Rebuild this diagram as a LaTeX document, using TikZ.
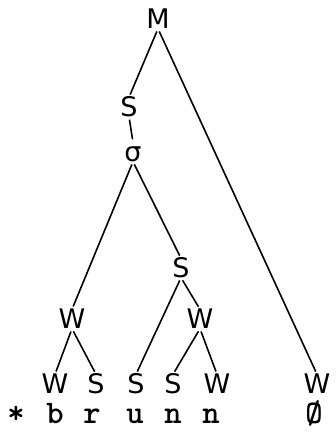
\documentclass[tikz,border=0pt]{standalone}
\usepackage{fontspec}
\setmainfont{DejaVu Sans}
\begin{document}
\begin{tikzpicture}[x=1pt,y=-1pt,
  lab/.style={font=\fontsize{27}{27}\selectfont, inner sep=0pt, text height=19pt, text depth=0pt},
  tw/.style={font=\ttfamily\bfseries\fontsize{33}{33}\selectfont, inner sep=0pt, anchor=base, text depth=0pt},
  br/.style={line width=1.6pt, shorten <=3pt, shorten >=3pt}]
\useasboundingbox (0,0) rectangle (335,436);
\node[lab] (M) at (158,19) {M};
\node[lab] (S1) at (129,107) {S};
\node[lab] (sig) at (133,152) {σ};
\node[lab] (S2) at (181,268) {S};
\node[lab] (W1) at (72,319) {W};
\node[lab] (W2) at (200,319) {W};
\node[lab] (b1) at (55,384) {W};
\node[lab] (b2) at (96,384) {S};
\node[lab] (b3) at (136,384) {S};
\node[lab] (b4) at (173,384) {S};
\node[lab] (b5) at (217,384) {W};
\node[lab] (b6) at (317,384) {W};
\node[tw] (t0) at (16,423) {*};
\node[tw] (t1) at (55,423) {b};
\node[tw] (t2) at (92,423) {r};
\node[tw] (t3) at (135,423) {u};
\node[tw] (t4) at (173,423) {n};
\node[tw] (t5) at (211,423) {n};
\node[tw] (t6) at (314,423) {Ø};
\draw[br] (M.south) -- (S1.north);
\draw[br] (M.south) -- (b6.north);
\draw[br] (S1.south) -- (sig.north);
\draw[br] (sig.south) -- (W1.north);
\draw[br] (sig.south) -- (S2.north);
\draw[br] (S2.south) -- (b3.north);
\draw[br] (S2.south) -- (W2.north);
\draw[br] (W1.south) -- (b1.north);
\draw[br] (W1.south) -- (b2.north);
\draw[br] (W2.south) -- (b4.north);
\draw[br] (W2.south) -- (b5.north);
\end{tikzpicture}
\end{document}
